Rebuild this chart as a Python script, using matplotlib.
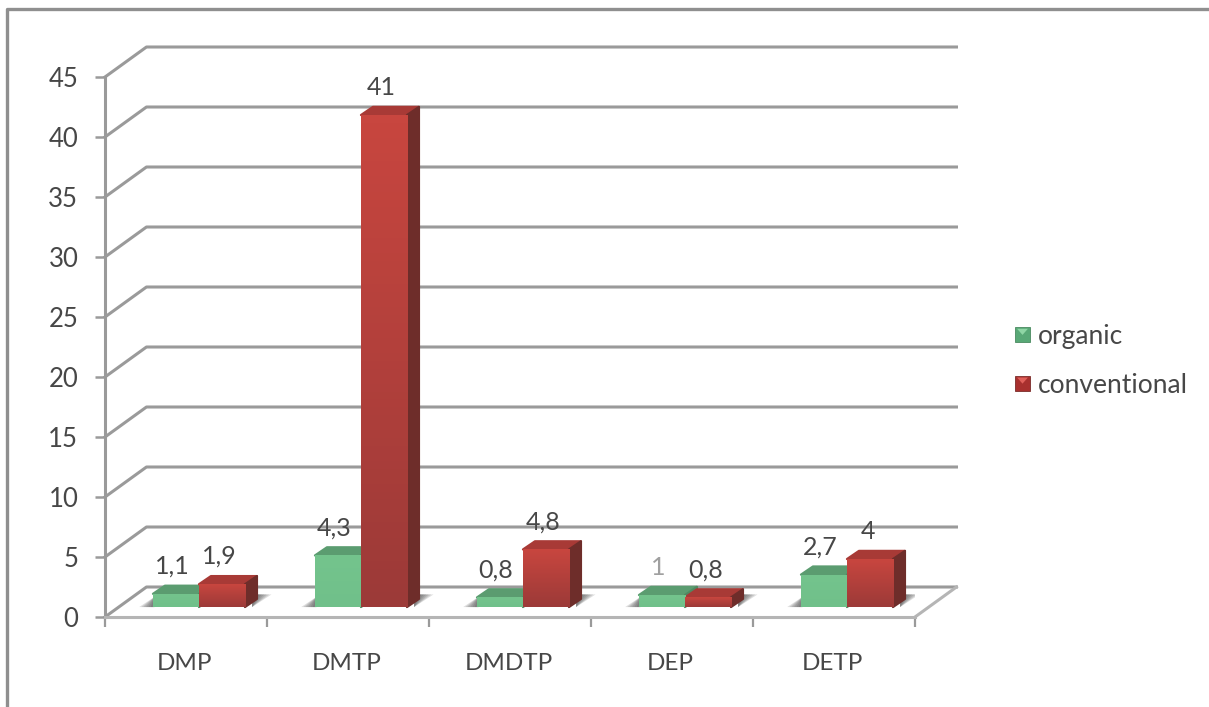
import numpy as np
from matplotlib import pyplot as plt
from matplotlib.lines import Line2D
from matplotlib.patches import Patch, Polygon, Rectangle
from matplotlib.colors import LinearSegmentedColormap
from matplotlib.legend_handler import HandlerPatch

plt.rcParams['font.family'] = ['Lato', 'DejaVu Sans']

categories = ['DMP', 'DMTP', 'DMDTP', 'DEP', 'DETP']
organic = [1.1, 4.3, 0.8, 1, 2.7]
conventional = [1.9, 41, 4.8, 0.8, 4]
y_ticks = list(range(0, 50, 5))

GREY = '#9a9a9a'
TEXT = '#474747'

# one category is 162 px wide, one y unit is 12 px
bar_w = 0.284
shift = 0.08
base = 0.83
dx, dy = 0.074, 0.68
wall_dx, wall_dy = 0.256, 2.5

fig = plt.figure(figsize=(12.09, 7.07), dpi=100)
ax = fig.add_axes([105 / 1209, 1 - 617 / 707, 810 / 1209, 540 / 707])


def draw_bar(x, val, front_top, front_bot, top_col, side_col):
    y = base + val
    ax.add_patch(Polygon([(x, y), (x + dx, y + dy), (x + bar_w + dx, y + dy), (x + bar_w, y)],
                         fc=top_col, ec=top_col, lw=1.6, joinstyle='round', zorder=4))
    ax.add_patch(Polygon([(x + bar_w, base), (x + bar_w + dx, base + dy), (x + bar_w + dx, y + dy), (x + bar_w, y)],
                         fc=side_col, ec=side_col, lw=1.6, joinstyle='round', zorder=4))
    b = ax.bar(x, val, bar_w, bottom=base, align='edge', color=front_bot, zorder=5)[0]
    cm = LinearSegmentedColormap.from_list('f', [front_top, front_bot])
    im = ax.imshow(np.linspace(0, 1, 64).reshape(-1, 1), cmap=cm, aspect='auto',
                   extent=(x, x + bar_w, base, y), origin='upper', zorder=6)
    im.set_clip_path(b)


def draw_shadow(x0, x1):
    for k in range(6):
        f = 1 - k / 6
        ax.add_patch(Polygon([(x1 - 0.03, base), (x1 + 0.09 * f, base + 1.05), (x1 - 0.03, base + 1.05)],
                             fc='#444444', ec='none', alpha=0.17, zorder=3))
        ax.add_patch(Polygon([(x0 + 0.01, base), (x0 - 0.085 * f, base), (x0 + 0.01, base + 0.85)],
                             fc='#444444', ec='none', alpha=0.17, zorder=3))


# back wall gridlines with their diagonal to the y axis
for t in y_ticks:
    ax.plot([0, wall_dx, 5 + wall_dx], [t, t + wall_dy, t + wall_dy], color=GREY, lw=2.2,
            clip_on=False, zorder=1, solid_joinstyle='round')
ax.plot([5, 5 + wall_dx], [0, wall_dy], color='#b5b5b5', lw=2.2, clip_on=False, zorder=1)

for i in range(len(categories)):
    c = i + 0.5 + shift
    draw_shadow(c - bar_w, c + bar_w + dx)
    draw_bar(c - bar_w, organic[i], '#74c48d', '#70c08a', '#5b9c70', '#4f8a63')
    draw_bar(c, conventional[i], '#c8463f', '#9c3a38', '#a83a36', '#6e2d2a')
    g_col = '#a0a0a0' if organic[i] == 1 else TEXT
    ax.annotate(f'{organic[i]:g}'.replace('.', ','), (c - bar_w / 2 - 0.025, base + organic[i]),
                xytext=(0, 20), textcoords='offset points', ha='center', va='center',
                fontsize=18, color=g_col, zorder=7)
    ax.annotate(f'{conventional[i]:g}'.replace('.', ','), (c + bar_w / 2 - 0.015, base + conventional[i]),
                xytext=(0, 20), textcoords='offset points', ha='center', va='center',
                fontsize=18, color=TEXT, zorder=7)

ax.set_xlim(0, 5)
ax.set_ylim(0, 45)
ax.patch.set_alpha(0)
for s in ['top', 'right']:
    ax.spines[s].set_visible(False)
ax.spines['left'].set_color(GREY)
ax.spines['left'].set_linewidth(2.2)
ax.spines['bottom'].set_color('#b5b5b5')
ax.spines['bottom'].set_linewidth(2.2)

ax.set_yticks(y_ticks)
ax.tick_params(axis='y', length=7.2, width=1.8, color=GREY, labelsize=18.5, labelcolor=TEXT, pad=12)
ax.set_xticks(range(6))
ax.set_xticklabels([])
ax.tick_params(axis='x', length=7.2, width=1.6, color=GREY)
ax.set_xticks([i + 0.49 for i in range(5)], categories, minor=True)
ax.tick_params(axis='x', which='minor', length=0, labelsize=17.5, labelcolor=TEXT, pad=26)


class BevelHandler(HandlerPatch):
    def create_artists(self, legend, orig, xd, yd, w, h, fontsize, trans):
        s = 10.8
        x0 = -xd
        y0 = -yd + (h - s) / 2
        sq = Rectangle((x0, y0), s, s, fc=orig.get_facecolor(), ec=orig.get_edgecolor(), lw=0.6, transform=trans)
        tri = Polygon([(x0 + 1.5, y0 + s - 1), (x0 + s - 1.5, y0 + s - 1), (x0 + s / 2, y0 + s / 2)],
                      fc=orig.get_gid(), ec='none', transform=trans)
        return [sq, tri]


h_org = Patch(fc='#58a876', ec='#4a8a60', label='organic', gid='#8fd6a5')
h_con = Patch(fc='#a8302e', ec='#7a2c2a', label='conventional', gid='#e0605a')
fig.legend(handles=[h_org, h_con], loc='center left', bbox_to_anchor=(1015 / 1209, 1 - 361 / 707),
           frameon=False, fontsize=19, labelcolor=TEXT, handlelength=0.57, handletextpad=0.3,
           labelspacing=0.9, borderpad=0, borderaxespad=0,
           handler_map={Patch: BevelHandler()})

# outer frame, only top and left are in the picture
fig.add_artist(Line2D([7 / 1209, 7 / 1209, 1], [0, 1 - 9 / 707, 1 - 9 / 707], color='#8f8f8f', lw=2.4))

fig.savefig('out.png', dpi=100)
